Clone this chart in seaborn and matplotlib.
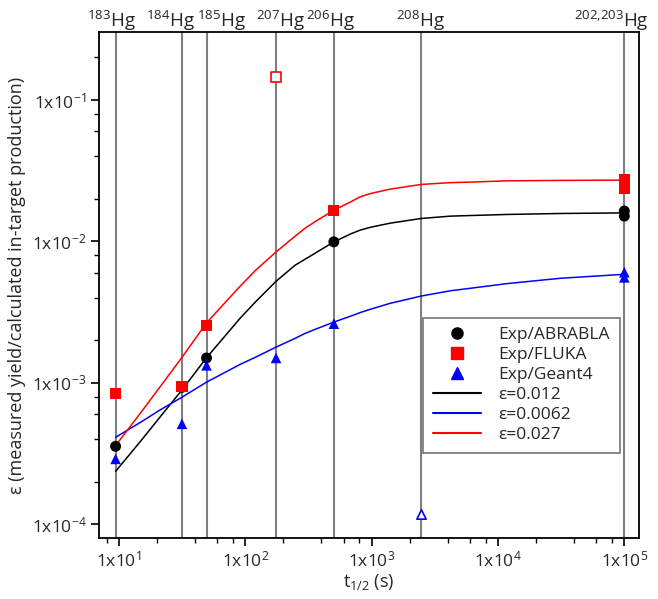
import numpy as np
import pandas as pd
import matplotlib
matplotlib.use("Agg")
import matplotlib.pyplot as plt
import matplotlib.ticker as mticker
import matplotlib.transforms as mtransforms
from matplotlib.lines import Line2D
import seaborn as sns

# ---------------- data ----------------
iso_labels = [r"$^{183}$Hg", r"$^{184}$Hg", r"$^{185}$Hg", r"$^{207}$Hg",
              r"$^{206}$Hg", r"$^{208}$Hg", r"$^{202{,}203}$Hg"]
iso_t = [9.4, 31.5, 49.3, 175, 502, 2470, 1.0e5]

abrabla_t = [9.4, 31.5, 49.3, 502, 1.0e5, 1.0e5]
abrabla_y = [3.56e-4, 9.3e-4, 1.50e-3, 9.93e-3, 0.0164, 0.0151]

fluka_t = [9.4, 31.5, 49.3, 502, 1.0e5, 1.0e5]
fluka_y = [8.38e-4, 9.48e-4, 2.55e-3, 0.0166, 0.0275, 0.0238]
fluka_open_t = [175]
fluka_open_y = [0.145]

geant_t = [9.4, 31.5, 49.3, 175, 502, 1.0e5, 1.0e5]
geant_y = [2.90e-4, 5.13e-4, 1.33e-3, 1.50e-3, 2.62e-3, 6.05e-3, 5.57e-3]
geant_open_t = [2470]
geant_open_y = [1.19e-4]

curve_t = [9.4, 14.7, 21.1, 31.5, 49.3, 90.8, 119.4, 175, 247.5, 297, 356, 502,
           674.5, 809, 971, 1399, 2470, 4176, 6012, 11750, 31020, 1.0e5]
curve_012 = [2.369e-4, 3.834e-4, 5.725e-4, 8.905e-4, 1.506e-3, 2.858e-3, 3.710e-3,
             5.225e-3, 6.784e-3, 7.480e-3, 8.250e-3, 9.920e-3, 0.01125, 0.01201,
             0.01257, 0.01346, 0.01453, 0.01509, 0.01524, 0.01551, 0.01576, 0.01591]
curve_027 = [3.603e-4, 6.072e-4, 9.355e-4, 1.513e-3, 2.656e-3, 4.817e-3, 6.202e-3,
             8.425e-3, 0.01088, 0.01240, 0.01379, 0.01663, 0.01895, 0.02066,
             0.02177, 0.02343, 0.02529, 0.02604, 0.02626, 0.02682, 0.02700, 0.02713]
curve_0062 = [4.124e-4, 5.243e-4, 6.428e-4, 7.918e-4, 1.012e-3, 1.350e-3, 1.513e-3,
              1.790e-3, 2.063e-3, 2.238e-3, 2.388e-3, 2.691e-3, 2.954e-3, 3.137e-3,
              3.310e-3, 3.650e-3, 4.111e-3, 4.475e-3, 4.662e-3, 5.031e-3, 5.487e-3,
              5.858e-3]

legend_labels = ["Exp/ABRABLA", "Exp/FLUKA", "Exp/Geant4",
                 "\u03b5=0.012", "\u03b5=0.0062", "\u03b5=0.027"]

# label x positions (layout)
label_x = [8.73, 25.4, 64.3, 188, 469, 2415, 7.85e4]

# ---------------- style ----------------
sns.set_style("ticks")
FONT = "Open Sans"
plt.rcParams["font.family"] = [FONT, "DejaVu Sans"]
plt.rcParams["mathtext.fontset"] = "custom"
plt.rcParams["mathtext.rm"] = FONT
plt.rcParams["mathtext.it"] = FONT + ":italic"
plt.rcParams["mathtext.bf"] = FONT + ":bold"
plt.rcParams["mathtext.default"] = "regular"

fig = plt.figure(figsize=(6.58, 5.99), dpi=100)
ax = fig.add_axes([0.1505, 0.1023, 0.8202, 0.8438])
ax.set_xscale("log")
ax.set_yscale("log")
ax.set_xlim(6.95, 1.30e5)
ax.set_ylim(8.04e-5, 0.301)

# vertical isotope lines
for t in iso_t:
    ax.axvline(t, color="#7f7f7f", lw=1.5, zorder=1)

# curves
curves = pd.DataFrame({"t": curve_t, "c012": curve_012, "c0062": curve_0062, "c027": curve_027})
sns.lineplot(data=curves, x="t", y="c012", color="black", lw=1.1, ax=ax, zorder=2)
sns.lineplot(data=curves, x="t", y="c0062", color="#0000ff", lw=1.1, ax=ax, zorder=2)
sns.lineplot(data=curves, x="t", y="c027", color="#ff0000", lw=1.1, ax=ax, zorder=2)

# markers
sns.scatterplot(x=abrabla_t, y=abrabla_y, marker="o", s=62, color="black",
                edgecolor="none", ax=ax, zorder=3, legend=False)
sns.scatterplot(x=fluka_t, y=fluka_y, marker="s", s=64, color="#ff0000",
                edgecolor="none", ax=ax, zorder=3, legend=False)
sns.scatterplot(x=geant_t, y=geant_y, marker="^", s=58, color="#0000ff",
                edgecolor="none", ax=ax, zorder=3, legend=False)
ax.scatter(fluka_open_t, fluka_open_y, marker="s", s=50, facecolors="white",
           edgecolors="#ff0000", linewidths=1.2, zorder=3)
ax.scatter(geant_open_t, geant_open_y, marker="^", s=45, facecolors="white",
           edgecolors="#0000ff", linewidths=1.2, zorder=3)

# axes styling
for side in ["left", "right", "top", "bottom"]:
    ax.spines[side].set_visible(True)
    ax.spines[side].set_linewidth(1.3)
    ax.spines[side].set_color("black")

fmt = mticker.FuncFormatter(lambda v, p: "1x10$^{%d}$" % int(round(np.log10(v))))
ax.xaxis.set_major_locator(mticker.LogLocator(base=10, numticks=20))
ax.yaxis.set_major_locator(mticker.LogLocator(base=10, numticks=20))
ax.xaxis.set_minor_locator(mticker.LogLocator(base=10, subs=(2, 4, 6, 8), numticks=20))
ax.yaxis.set_minor_locator(mticker.LogLocator(base=10, subs=(2, 4, 6, 8), numticks=20))
ax.xaxis.set_major_formatter(fmt)
ax.yaxis.set_major_formatter(fmt)
ax.xaxis.set_minor_formatter(mticker.NullFormatter())
ax.yaxis.set_minor_formatter(mticker.NullFormatter())
ax.tick_params(which="major", direction="out", length=6, width=1.2, labelsize=12.5,
               top=False, right=False, color="black", pad=3)
ax.tick_params(which="minor", direction="out", length=3.5, width=1.0,
               top=False, right=False, color="black")

ax.set_xlabel(r"t$_{1/2}$ (s)", fontsize=13, labelpad=1)
ax.set_ylabel("\u03b5 (measured yield/calculated in-target production)", fontsize=13, labelpad=4)

# isotope labels on top
trans = mtransforms.blended_transform_factory(ax.transData, ax.transAxes)
for lx, lab in zip(label_x, iso_labels):
    ax.text(lx, 1.0105, lab, transform=trans, ha="center", va="baseline", fontsize=13.5)

# legend
handles = [
    Line2D([], [], ls="", marker="o", color="black", ms=8),
    Line2D([], [], ls="", marker="s", color="#ff0000", ms=8),
    Line2D([], [], ls="", marker="^", color="#0000ff", ms=8),
    Line2D([], [], color="black", lw=1.5),
    Line2D([], [], color="#0000ff", lw=1.5),
    Line2D([], [], color="#ff0000", lw=1.5),
]
leg = ax.legend(handles, legend_labels, loc="upper left", bbox_to_anchor=(0.6006, 0.4353),
                fontsize=12.5, frameon=True, fancybox=False, edgecolor="#7f7f7f",
                framealpha=1, borderpad=0.55, labelspacing=0.22, handlelength=2.8,
                handletextpad=1.0, borderaxespad=0)
leg.get_frame().set_linewidth(1.3)

fig.savefig("out.png", dpi=100)
